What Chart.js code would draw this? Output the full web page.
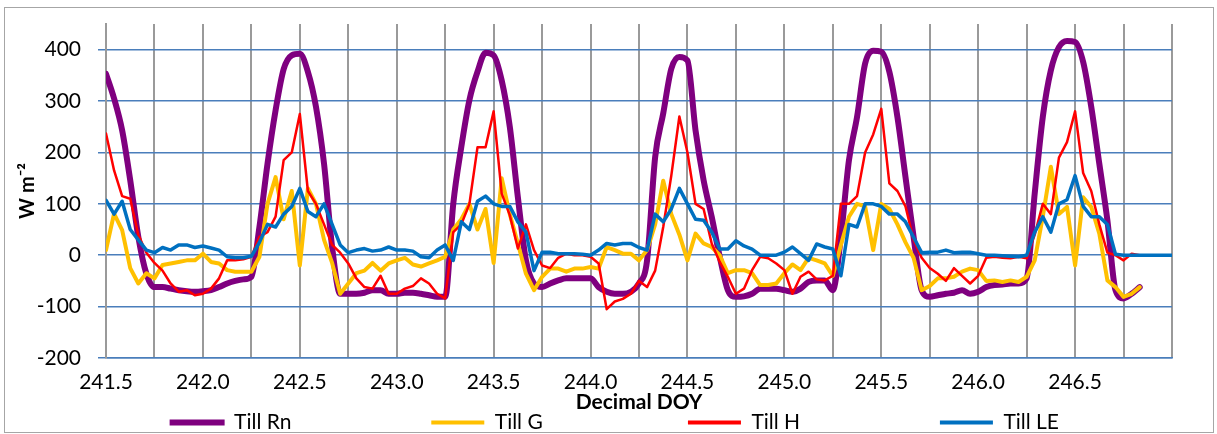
<!DOCTYPE html>
<html>
<head>
<meta charset="utf-8">
<script src="https://cdn.jsdelivr.net/npm/chart.js@4.4.1/dist/chart.umd.min.js"></script>
<style>
  html, body { margin: 0; padding: 0; background: #fff; }
</style>
</head>
<body>
<canvas id="myChart" width="1217" height="434"></canvas>
<script>
// hourly time stamps (decimal day of year)
const doyStart = 241.5;
const doyStep = 1 / 24;

// series values, W m-2, one value per hour
const rn = [
  353, 305, 243, 146, 36, -36, -62, -62, -65, -68, -70, -71,
  -70, -68, -62, -55, -50, -47, -42, 55, 178, 282, 362, 389,
  392, 357, 289, 178, 16, -75, -75, -75, -73, -68, -68, -75,
  -75, -73, -73, -75, -78, -81, -81, 100, 211, 302, 357, 394,
  389, 340, 250, 113, -10, -55, -62, -55, -49, -45, -45, -45,
  -45, -62, -71, -75, -75, -71, -55, -10, 191, 276, 363, 386,
  379, 243, 146, 75, -3, -68, -81, -80, -75, -65, -65, -65,
  -68, -71, -65, -52, -49, -49, -68, 36, 185, 269, 373, 398,
  396, 357, 269, 152, 36, -68, -81, -78, -75, -73, -68, -75,
  -71, -62, -58, -57, -55, -55, -45, 120, 269, 360, 405, 417,
  415, 376, 289, 178, 68, -68, -84, -75, -62
];
const g = [
  10, 81, 49, -25, -55, -35, -45, -19, -16, -13, -10, -10,
  3, -13, -16, -29, -32, -32, -32, -3, 100, 152, 70, 125,
  -20, 130, 100, 30, -15, -75, -55, -35, -30, -15, -30, -16,
  -10, -5, -18, -22, -16, -10, -3, 50, 70, 100, 50, 90,
  -15, 150, 80, 23, -36, -68, -42, -26, -26, -32, -26, -26,
  -23, -26, 16, 10, 3, 3, -10, 10, 60, 145, 80, 40,
  -10, 42, 23, 16, 0, -35, -29, -29, -35, -58, -58, -55,
  -35, -18, -29, -5, -10, -16, -40, 20, 75, 100, 95, 10,
  100, 90, 60, 25, -5, -68, -60, -45, -45, -42, -32, -26,
  -29, -50, -49, -52, -49, -52, -42, -10, 75, 172, 80, 94,
  -20, 113, 94, 42, -49, -62, -81, -75, -62
];
const h = [
  237, 165, 115, 110, 40, 5, -15, -30, -55, -71, -68, -78,
  -75, -65, -45, -10, -10, -8, -3, 36, 45, 75, 185, 200,
  275, 125, 100, 60, 20, 5, -16, -45, -62, -65, -40, -75,
  -75, -65, -60, -45, -55, -75, -84, 45, 60, 100, 210, 210,
  280, 120, 78, 13, 60, 10, -20, -25, -5, 3, 0, 0,
  -3, -16, -105, -90, -85, -75, -50, -62, -30, 55, 155, 270,
  200, 100, 90, 23, -13, -42, -75, -65, -29, -3, -6, -16,
  -29, -75, -42, -32, -47, -49, -40, 100, 100, 115, 200, 235,
  285, 140, 125, 95, 30, -5, -25, -36, -50, -25, -40, -55,
  -40, -5, -3, -5, -6, -3, -6, 40, 100, 80, 190, 220,
  280, 160, 125, 60, 5, 0, -10, 3, 0, 0, 0, 0, 0
];
const le = [
  107, 80, 105, 50, 30, 10, 5, 15, 10, 20, 20, 15,
  18, 14, 10, -3, -5, -5, -2, 25, 60, 55, 80, 95,
  130, 85, 75, 100, 60, 20, 5, 10, 13, 8, 10, 16,
  10, 10, 8, -3, -5, 10, 20, -10, 65, 50, 105, 115,
  100, 95, 95, 65, 45, -30, 6, 6, 3, 3, 3, 2,
  0, 10, 23, 20, 23, 23, 15, 10, 80, 65, 90, 130,
  100, 70, 68, 45, 12, 12, 28, 18, 12, 0, 0, 0,
  6, 16, 3, -10, 22, 16, 12, -40, 60, 55, 100, 100,
  95, 80, 80, 65, 35, 5, 6, 6, 10, 5, 6, 6,
  3, 0, 0, -1, -2, -3, 0, 45, 75, 45, 100, 108,
  155, 95, 75, 75, 60, 2, 0, 0, 0, 0, 0, 0, 0
];

const doy = h.map((_, i) => doyStart + i * doyStep);
const toPoints = arr => doy.map((x, i) => ({ x: x, y: arr[i] === undefined ? null : arr[i] }));

// legend text widths (px) so the four entries spread like the original
const legendTextWidths = [198, 194, 193, 106];

const frame = {
  id: 'frame',
  beforeDraw(chart) {
    const c = chart.ctx;
    c.save();
    c.fillStyle = '#fff';
    c.fillRect(0, 0, chart.width, chart.height);
    c.strokeStyle = '#a6a6a6';
    c.lineWidth = 1;
    c.strokeRect(4.5, 7.5, chart.width - 8, chart.height - 9);
    c.restore();
  }
};

const tickFont = { family: 'Lato', size: 21 };

const data = {
  datasets: [
    { label: 'Till Rn', data: toPoints(rn), borderColor: '#7f007f', backgroundColor: '#7f007f',
      borderWidth: 6, cubicInterpolationMode: 'monotone', tension: 0.3, order: 4 },
    { label: 'Till G', data: toPoints(g), borderColor: '#ffc000', backgroundColor: '#ffc000',
      borderWidth: 4, order: 3 },
    { label: 'Till H', data: toPoints(h), borderColor: '#ff0000', backgroundColor: '#ff0000',
      borderWidth: 2.5, order: 2 },
    { label: 'Till LE', data: toPoints(le), borderColor: '#0070c0', backgroundColor: '#0070c0',
      borderWidth: 3.5, order: 1 }
  ]
};

const config = {
  type: 'line',
  data: data,
  options: {
    responsive: false,
    animation: false,
    layout: { padding: { top: 24, right: 45, bottom: 0, left: 0 } },
    elements: {
      point: { radius: 0 },
      line: { fill: false, borderJoinStyle: 'round', borderCapStyle: 'round' }
    },
    plugins: {
      tooltip: { enabled: false },
      legend: {
        position: 'bottom',
        fullSize: false,
        maxHeight: 22,
        labels: {
          boxWidth: 53,
          boxHeight: 4,
          padding: 0,
          color: '#000',
          font: { family: 'Lato', size: 21 },
          generateLabels(chart) {
            const ctx = chart.ctx;
            ctx.save();
            ctx.font = '21px Lato';
            const items = chart.data.datasets.map((ds, i) => {
              let text = ds.label;
              while (ctx.measureText(text + ' ').width <= legendTextWidths[i]) text += ' ';
              return {
                text: text,
                fillStyle: ds.borderColor,
                strokeStyle: ds.borderColor,
                lineWidth: i === 0 ? 2 : 0,
                fontColor: '#000',
                hidden: false,
                datasetIndex: i
              };
            });
            ctx.restore();
            return items;
          }
        }
      }
    },
    scales: {
      x: {
        type: 'linear',
        min: 241.5,
        max: 247.0,
        afterFit(scale) {
          scale.height = 54;
          scale.paddingLeft = 0;
          scale.paddingRight = 0;
        },
        ticks: {
          stepSize: 0.25,
          autoSkip: false,
          maxRotation: 0,
          padding: 12,
          color: '#000',
          font: tickFont,
          callback: v => (Math.abs(v * 2 - Math.round(v * 2)) < 1e-6 && v < 246.9) ? v.toFixed(1) : ''
        },
        grid: { color: '#9a9a9a', lineWidth: 2, drawTicks: false },
        border: { color: '#4a7ebb', width: 1.5 },
        title: {
          display: true,
          text: 'Decimal DOY',
          color: '#000',
          font: { family: 'Lato', size: 21, weight: 'bold', lineHeight: 0.9 },
          padding: { top: 0, bottom: 0 }
        }
      },
      y: {
        min: -200,
        max: 450,
        afterFit(scale) {
          scale.width = 106;
          scale.paddingTop = 0;
          scale.paddingBottom = 0;
        },
        ticks: {
          stepSize: 100,
          includeBounds: false,
          padding: 17,
          color: '#000',
          font: tickFont
        },
        grid: { color: '#4a7ebb', lineWidth: 1.5, tickLength: 8 },
        border: { color: '#9a9a9a', width: 2 },
        title: {
          display: true,
          text: 'W m⁻²',
          color: '#000',
          font: { family: 'Lato', size: 20, weight: 'bold' },
          padding: { top: 16, bottom: 0 }
        }
      }
    }
  },
  plugins: [frame]
};

var myChart = new Chart(document.getElementById('myChart'), config);
</script>
</body>
</html>
